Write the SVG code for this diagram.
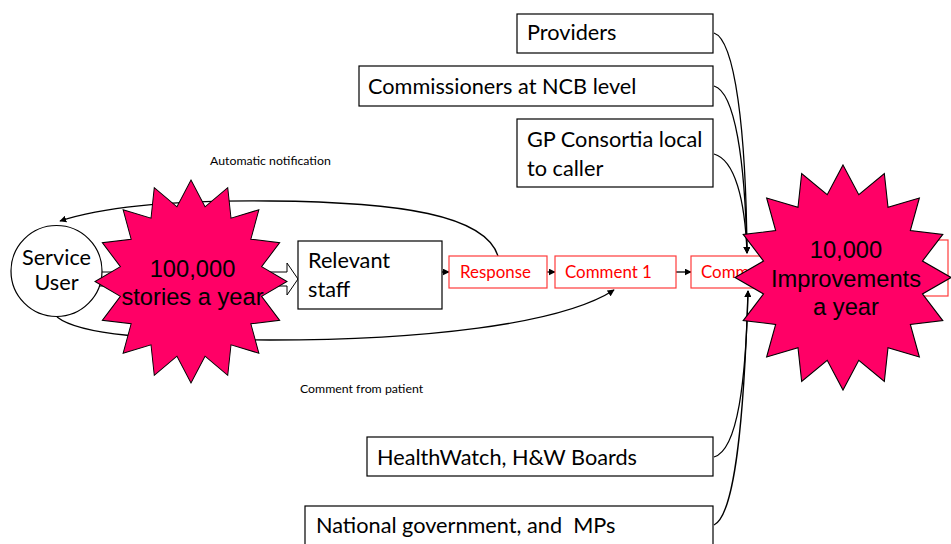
<svg xmlns="http://www.w3.org/2000/svg" width="951" height="544" viewBox="0 0 951 544">
<defs>
<style>
.box{fill:#fff;stroke:#000;stroke-width:1.2}
.rbox{fill:#fff;stroke:#ff3b3b;stroke-width:1.2}
.t{font-family:Lato,"Liberation Sans",sans-serif;font-size:21.7px;fill:#000;white-space:pre}
.rt{font-family:Lato,"Liberation Sans",sans-serif;font-size:16.9px;fill:#ff0000}
.st{font-family:Lato,"Liberation Sans",sans-serif;font-size:12.3px;fill:#000}
.big{font-family:"Liberation Sans",Arial,sans-serif;font-size:23.7px;fill:#000;text-anchor:middle}
.con{fill:none;stroke:#000;stroke-width:1.3}
.star{fill:#ff0066;stroke:#000;stroke-width:1;vector-effect:non-scaling-stroke}
</style>
<marker id="ah" viewBox="0 0 10 10" refX="9" refY="5" markerWidth="7" markerHeight="7" markerUnits="userSpaceOnUse" orient="auto">
<path d="M0,0 L10,5 L0,10 z" fill="#000"/>
</marker>
<polygon id="star16" points="0,-100 14.63,-73.56 38.27,-92.39 41.67,-62.36 70.71,-70.71 62.36,-41.67 92.39,-38.27 73.56,-14.63 100,0 73.56,14.63 92.39,38.27 62.36,41.67 70.71,70.71 41.67,62.36 38.27,92.39 14.63,73.56 0,100 -14.63,73.56 -38.27,92.39 -41.67,62.36 -70.71,70.71 -62.36,41.67 -92.39,38.27 -73.56,14.63 -100,0 -73.56,-14.63 -92.39,-38.27 -62.36,-41.67 -70.71,-70.71 -41.67,-62.36 -38.27,-92.39 -14.63,-73.56"/>
</defs>
<rect width="951" height="544" fill="#fff"/>

<g id="connectors">
<path class="con" d="M498,256 C485,215 400,202 270,201 C170,200 100,208 60,221" marker-end="url(#ah)"/>
<path class="con" d="M57,317 C80,335 150,340 270,340 C420,340 560,325 614,290" marker-end="url(#ah)"/>
<path class="con" d="M442,272 L449,272" marker-end="url(#ah)"/>
<path class="con" d="M547,272 L555,272" marker-end="url(#ah)"/>
<path class="con" d="M676,272 L691,272" marker-end="url(#ah)"/>
<path class="con" d="M714,33 C735,40 746,130 747,253" marker-end="url(#ah)"/>
<path class="con" d="M714,86 C735,92 745,160 747,253" marker-end="url(#ah)"/>
<path class="con" d="M714,154 C735,160 745,200 747,253" marker-end="url(#ah)"/>
<path class="con" d="M714,457 C738,450 746,380 748,291" marker-end="url(#ah)"/>
<path class="con" d="M714,525 C735,515 744,420 748,291" marker-end="url(#ah)"/>
</g>

<g id="block-arrow">
<path d="M100,272 L287,272 L287,263 L298,279 L287,295 L287,286 L100,286" fill="#fff" stroke="#000" stroke-width="1"/>
</g>

<g id="service-user">
<circle cx="56.5" cy="271" r="45.5" fill="#fff" stroke="#000" stroke-width="1.2"/>
<text class="t" x="56.5" y="265" text-anchor="middle" font-size="19">Service</text>
<text class="t" x="56.5" y="290" text-anchor="middle" font-size="19">User</text>
</g>

<g id="relevant-staff">
<rect class="box" x="298" y="241" width="144" height="68"/>
<text class="t" x="308" y="268">Relevant</text>
<text class="t" x="308" y="297">staff</text>
</g>

<g id="response">
<rect class="rbox" x="449" y="256" width="98" height="32"/>
<text class="rt" x="460" y="278">Response</text>
</g>

<g id="comment1">
<rect class="rbox" x="555" y="256" width="121" height="32"/>
<text class="rt" x="565" y="278">Comment 1</text>
</g>

<g id="comment2">
<rect class="rbox" x="691" y="256" width="110" height="32"/>
<text class="rt" x="701" y="278">Comm</text>
</g>

<g id="outcome-box">
<rect class="rbox" x="800" y="240" width="148" height="56"/>
</g>

<g id="providers">
<rect class="box" x="517" y="14" width="196" height="39"/>
<text class="t" x="527" y="40">Providers</text>
</g>

<g id="commissioners">
<rect class="box" x="359" y="66" width="354" height="40"/>
<text class="t" x="368" y="94">Commissioners at NCB level</text>
</g>

<g id="gp-consortia">
<rect class="box" x="517" y="119" width="196" height="68"/>
<text class="t" x="527" y="147">GP Consortia local</text>
<text class="t" x="527" y="176">to caller</text>
</g>

<g id="healthwatch">
<rect class="box" x="367" y="437" width="346" height="39"/>
<text class="t" x="377" y="465">HealthWatch, H&amp;W Boards</text>
</g>

<g id="national">
<rect class="box" x="305" y="506" width="408" height="45"/>
<text class="t" x="316" y="533" xml:space="preserve">National government, and  MPs</text>
</g>

<g id="labels">
<text class="st" x="210" y="165">Automatic notification</text>
<text class="st" x="300" y="393">Comment from patient</text>
</g>

<g id="star-stories">
<use href="#star16" class="star" transform="translate(191,281.5) scale(0.96,1.015)"/>
<text class="big" x="192.5" y="277">100,000</text>
<text class="big" x="192.5" y="305">stories a year</text>
</g>

<g id="star-improvements">
<use href="#star16" class="star" transform="translate(843,277.5) scale(1.08,1.125)"/>
<text class="big" x="846" y="258" font-size="24">10,000</text>
<text class="big" x="846" y="287" font-size="24">Improvements</text>
<text class="big" x="846" y="315" font-size="24">a year</text>
</g>
</svg>
